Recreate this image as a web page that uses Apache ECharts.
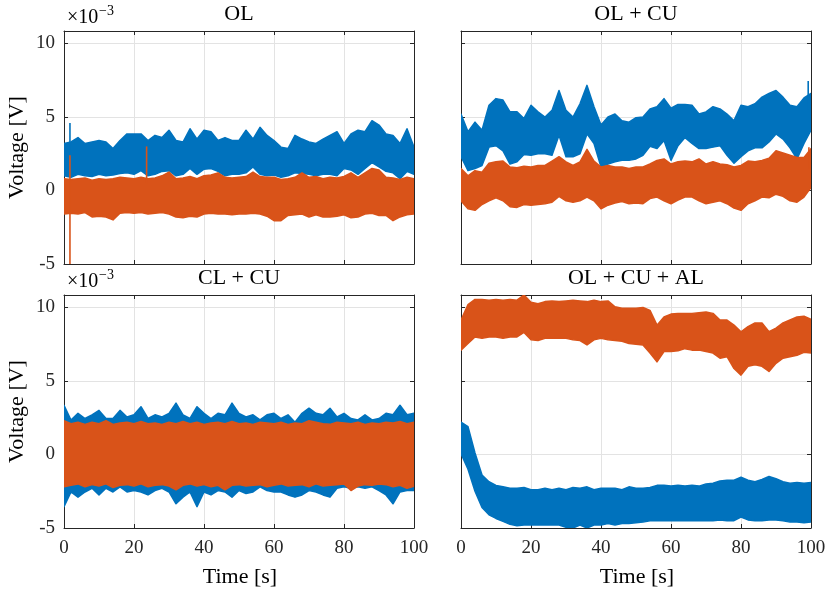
<!DOCTYPE html>
<html><head><meta charset="utf-8">
<script src="https://cdn.jsdelivr.net/npm/echarts@6/dist/echarts.min.js"></script>
<style>html,body{margin:0;background:#fff}#c{width:832px;height:596px}</style>
</head><body><div id="c"></div>
<script>
// ---- data (voltage in 1e-3 V), envelopes every 2 s ----
const time = [0,2,4,6,8,10,12,14,16,18,20,22,24,26,28,30,32,34,36,38,40,42,44,46,48,50,52,54,56,58,60,62,64,66,68,70,72,74,76,78,80,82,84,86,88,90,92,94,96,98,100];
const xTicks = [0,20,40,60,80,100];
const yTicks = [-5,0,5,10];
const panelTitles = ['OL','OL + CU','CL + CU','OL + CU + AL'];

// OL
const olBlueUpper = [3.2,3.3,3.6,3.2,3.3,3.4,3.3,2.85,3.4,3.85,3.85,3.85,3.4,3.75,3.6,4.1,3.4,3.3,4.2,3.5,4.1,4.0,3.4,3.6,3.4,3.4,4.1,3.5,4.3,3.75,3.4,2.95,2.85,3.75,3.5,3.3,3.2,3.5,3.75,4.0,3.2,3.85,4.1,4.0,4.75,4.45,3.85,3.75,3.2,4.2,2.95];
const olBlueLower = [1.0,0.9,1.1,1.0,0.95,1.1,1.0,1.05,1.15,1.2,1.1,1.35,1.0,1.1,1.3,1.35,1.0,1.1,1.5,1.1,1.45,1.5,1.3,1.0,1.1,1.1,1.2,1.6,1.1,1.0,1.05,0.9,1.0,1.2,1.15,1.1,1.0,1.1,1.1,1.0,1.5,1.4,1.1,1.5,1.9,1.6,1.3,1.2,0.8,1.3,1.1];
const olOrangeUpper = [0.8,0.75,0.8,0.85,0.7,0.8,0.75,0.8,0.9,0.85,0.8,0.9,0.8,0.85,1.0,1.25,0.8,0.85,0.95,0.8,1.0,1.05,1.2,0.9,0.85,0.9,0.95,1.25,0.95,0.9,0.9,0.75,0.8,0.9,1.2,0.9,0.95,0.8,0.9,0.85,0.95,1.2,0.9,1.2,1.5,1.4,0.9,0.85,0.75,0.9,0.8];
const olOrangeLower = [-1.6,-1.55,-1.6,-1.5,-1.8,-1.75,-1.8,-2.0,-1.55,-1.5,-1.55,-1.5,-1.6,-1.55,-1.5,-1.6,-1.8,-1.85,-1.75,-1.8,-1.6,-1.55,-1.6,-1.6,-1.65,-1.6,-1.6,-1.55,-1.6,-1.75,-2.05,-2.05,-1.7,-1.65,-1.6,-1.8,-1.65,-1.8,-1.8,-1.75,-1.65,-1.85,-1.8,-1.6,-1.55,-1.7,-1.7,-2.05,-1.8,-1.65,-1.6];
const olBlueSpikes = [[1.7,2.5,4.6]];            // [time, from, to]
const olOrangeSpikes = [[1.7,-5.0,2.4],[23.6,0.5,3.0]];

// OL + CU
const olcuBlueUpper = [5.2,4.0,4.65,4.1,5.8,6.25,6.15,5.35,5.35,4.9,5.8,5.35,5.0,5.45,6.8,5.45,5.0,5.9,7.15,5.7,4.45,5.0,5.2,4.75,4.65,4.95,5.0,5.55,5.7,6.25,5.6,5.85,5.85,5.8,5.2,5.35,5.7,5.55,5.2,4.75,5.8,5.7,5.9,6.35,6.6,6.8,6.35,5.8,5.7,6.3,6.6];
const olcuBlueLower = [2.3,1.35,1.5,1.7,2.95,3.05,2.7,1.8,1.95,2.45,2.4,2.5,2.5,2.4,3.75,2.3,2.3,2.5,3.85,3.2,1.6,1.8,1.95,2.05,2.05,2.15,2.4,3.0,2.85,3.4,2.05,3.05,3.6,3.2,2.85,2.85,2.95,3.05,2.4,1.85,2.3,2.7,2.9,2.9,3.3,3.85,3.5,2.9,2.15,3.2,4.1];
const olcuOrangeUpper = [1.5,1.0,1.35,1.25,1.85,1.95,2.0,1.6,1.55,1.65,1.6,1.7,1.7,2.0,2.3,1.95,1.7,1.95,2.8,2.0,1.6,1.7,1.6,1.6,1.5,1.6,1.6,1.8,2.05,2.15,1.8,1.95,2.0,1.95,2.15,1.8,1.95,1.8,1.75,1.6,1.7,2.0,1.95,2.05,2.2,2.7,2.55,2.4,2.25,2.25,2.85];
const olcuOrangeLower = [-0.7,-1.25,-1.35,-0.95,-0.7,-0.5,-0.7,-1.1,-1.15,-0.95,-1.0,-0.95,-0.9,-0.8,-0.4,-0.7,-0.8,-0.7,-0.45,-0.7,-1.25,-1.0,-0.85,-0.75,-0.9,-0.85,-0.9,-0.55,-0.45,-0.7,-0.9,-0.65,-0.45,-0.45,-0.7,-0.9,-0.8,-0.7,-0.9,-1.2,-1.35,-0.9,-0.7,-0.45,-0.5,-0.25,-0.4,-0.7,-0.8,-0.45,0.2];
const olcuBlueSpikes = [[99.2,5.5,7.45]];
const olcuOrangeSpikes = [[99.4,1.5,2.95]];

// CL + CU
const clcuBlueUpper = [3.35,2.35,2.8,2.45,2.7,3.0,2.45,2.45,3.0,2.55,2.7,3.25,2.45,2.7,2.55,2.8,3.5,2.7,2.45,3.25,2.8,2.45,2.8,2.7,3.5,2.8,2.55,2.7,2.35,2.7,2.8,2.45,2.7,2.2,2.8,3.15,2.8,2.7,3.15,2.55,2.8,2.45,2.35,2.7,2.35,2.45,2.8,2.7,3.35,2.7,2.8];
const clcuBlueLower = [-3.55,-2.55,-2.9,-2.55,-2.3,-2.75,-2.3,-2.55,-2.2,-2.55,-2.45,-2.55,-2.75,-2.45,-2.3,-2.55,-3.35,-2.9,-2.55,-3.55,-2.55,-2.75,-2.45,-2.55,-2.9,-2.45,-2.65,-2.55,-2.2,-2.45,-2.55,-2.55,-2.75,-2.9,-2.75,-2.45,-2.55,-2.75,-2.9,-2.3,-2.2,-2.3,-2.2,-2.3,-2.2,-2.45,-2.75,-3.35,-2.55,-2.45,-2.45];
const clcuOrangeUpper = [2.3,2.1,2.2,2.05,2.2,2.1,2.3,2.05,2.15,2.2,2.1,2.25,2.1,2.15,2.05,2.2,2.1,2.25,2.1,2.2,2.05,2.15,2.2,2.1,2.25,2.1,2.15,2.05,2.2,2.15,2.1,2.2,2.05,2.15,2.1,2.3,2.2,2.1,2.05,2.2,2.15,2.1,2.2,2.05,2.15,2.1,2.2,2.15,2.25,2.1,2.2];
const clcuOrangeLower = [-2.2,-2.1,-2.0,-2.2,-2.05,-2.15,-2.0,-2.25,-2.1,-2.05,-2.15,-2.0,-2.2,-2.1,-2.05,-2.15,-2.4,-2.1,-2.0,-2.15,-2.05,-2.2,-2.1,-2.4,-2.1,-2.05,-2.15,-2.1,-2.05,-2.2,-2.1,-2.0,-2.15,-2.1,-2.05,-2.2,-2.0,-2.15,-2.1,-2.05,-2.0,-2.45,-2.15,-2.05,-2.1,-2.0,-2.05,-2.2,-2.1,-2.3,-2.15];

// OL + CU + AL
const olcualBlueUpper = [2.2,1.9,0.1,-1.4,-1.85,-2.1,-2.2,-2.3,-2.3,-2.25,-2.4,-2.4,-2.3,-2.4,-2.3,-2.4,-2.25,-2.3,-2.2,-2.4,-2.3,-2.3,-2.3,-2.4,-2.2,-2.3,-2.3,-2.25,-2.1,-2.1,-2.15,-2.1,-2.15,-2.1,-2.15,-2.0,-1.95,-1.8,-1.75,-1.75,-1.55,-1.75,-1.85,-1.7,-1.5,-1.65,-1.85,-1.95,-1.9,-1.95,-1.9];
const olcualBlueLower = [0.05,-1.0,-2.5,-3.6,-4.1,-4.35,-4.55,-4.75,-4.85,-4.8,-4.8,-4.8,-4.8,-4.8,-4.8,-4.95,-5.0,-4.8,-5.0,-4.8,-4.8,-4.7,-4.8,-4.7,-4.7,-4.65,-4.6,-4.5,-4.5,-4.5,-4.5,-4.5,-4.5,-4.5,-4.5,-4.5,-4.5,-4.45,-4.5,-4.5,-4.25,-4.45,-4.5,-4.5,-4.45,-4.45,-4.5,-4.6,-4.6,-4.65,-4.6];
const olcualOrangeUpper = [9.15,10.2,10.55,10.55,10.5,10.55,10.5,10.55,10.5,10.85,10.35,10.25,10.4,10.45,10.4,10.45,10.5,10.45,10.4,10.5,10.4,10.45,10.05,9.95,9.95,9.95,10.0,9.8,8.8,9.35,9.55,9.6,9.6,9.6,9.65,9.7,9.6,9.15,9.15,8.8,8.35,8.7,8.95,8.95,8.35,8.6,8.95,9.15,9.35,9.4,9.2];
const olcualOrangeLower = [7.1,7.55,8.0,7.9,8.0,8.0,7.9,8.0,8.0,8.3,7.8,7.75,7.9,7.9,7.9,7.9,7.8,7.75,7.45,7.8,7.9,7.8,7.75,7.7,7.55,7.5,7.45,6.9,6.3,7.0,7.0,7.05,7.2,7.1,7.1,7.0,6.9,6.55,6.65,5.85,5.4,6.0,6.1,6.0,5.65,6.2,6.55,6.65,6.75,6.95,6.9];

// ---- styling / layout ----
const FONT = '"Liberation Serif", "Times New Roman", serif';
const BLUE = '#0072BD', ORANGE = '#D95319';
const AXC = '#262626', GRIDC = '#e3e3e3';
const W = 350, H = 233;
const layout = [{left:64, top:31}, {left:461, top:31}, {left:64, top:295}, {left:461, top:295}];
const Y_MIN = -5, Y_MAX = 10.85;

const panels = [
  {blue:[olBlueLower, olBlueUpper], orange:[olOrangeLower, olOrangeUpper], bs: olBlueSpikes, os: olOrangeSpikes},
  {blue:[olcuBlueLower, olcuBlueUpper], orange:[olcuOrangeLower, olcuOrangeUpper], bs: olcuBlueSpikes, os: olcuOrangeSpikes},
  {blue:[clcuBlueLower, clcuBlueUpper], orange:[clcuOrangeLower, clcuOrangeUpper], bs: [], os: []},
  {blue:[olcualBlueLower, olcualBlueUpper], orange:[olcualOrangeLower, olcualOrangeUpper], bs: [], os: []}
];

function bandSeries(i, lo, hi, color) {
  return {
    type: 'custom', xAxisIndex: 2*i, yAxisIndex: 2*i, clip: true, silent: true,
    data: time.map((t, k) => [t, lo[k], hi[k]]),
    encode: {x: 0, y: [1, 2]},
    renderItem: (params, api) => {
      if (params.dataIndex !== 0) return null;
      const pts = [];
      for (let k = 0; k < time.length; k++) pts.push(api.coord([time[k], hi[k]]));
      for (let k = time.length - 1; k >= 0; k--) pts.push(api.coord([time[k], lo[k]]));
      return {type: 'polygon', shape: {points: pts},
              style: {fill: color, stroke: color, lineWidth: 1.5, lineJoin: 'round'}};
    }
  };
}
function spikeSeries(i, spikes, color) {
  return {
    type: 'custom', xAxisIndex: 2*i, yAxisIndex: 2*i, clip: true, silent: true,
    data: spikes, encode: {x: 0, y: [1, 2]},
    renderItem: (params, api) => {
      const a = api.coord([api.value(0), api.value(1)]);
      const b = api.coord([api.value(0), api.value(2)]);
      return {type: 'line', shape: {x1: a[0], y1: a[1], x2: b[0], y2: b[1]},
              style: {stroke: color, lineWidth: 1.6}};
    }
  };
}

const grids = [], xAxes = [], yAxes = [], series = [];
layout.forEach((g, i) => {
  grids.push({left: g.left, top: g.top, width: W, height: H, containLabel: false});
  const common = {type: 'value', gridIndex: i, min: 0, max: 100, interval: 20,
    axisLine: {show: true, onZero: false, lineStyle: {color: AXC, width: 1}},
    axisTick: {show: true, inside: true, length: 4, lineStyle: {color: AXC, width: 1}}};
  xAxes.push(Object.assign({}, common, {position: 'bottom',
    axisLabel: {show: i >= 2, fontFamily: FONT, fontSize: 19, color: AXC, margin: 11,
                customValues: xTicks},
    splitLine: {show: true, lineStyle: {color: GRIDC, width: 1}}}));
  xAxes.push(Object.assign({}, common, {position: 'top', axisLabel: {show: false}, splitLine: {show: false}}));
  const ycommon = {type: 'value', gridIndex: i, min: Y_MIN, max: Y_MAX, interval: 5,
    axisLine: {show: true, onZero: false, lineStyle: {color: AXC, width: 1}},
    axisTick: {show: true, inside: true, length: 4, lineStyle: {color: AXC, width: 1},
               customValues: yTicks}};
  yAxes.push(Object.assign({}, ycommon, {position: 'left',
    axisLabel: {show: i % 2 === 0, fontFamily: FONT, fontSize: 19, color: AXC, margin: 9,
                customValues: yTicks},
    splitLine: {show: true, lineStyle: {color: GRIDC, width: 1}}}));
  yAxes.push(Object.assign({}, ycommon, {position: 'right', axisLabel: {show: false}, splitLine: {show: false}}));

  const p = panels[i];
  series.push(bandSeries(i, p.blue[0], p.blue[1], BLUE));
  if (p.bs.length) series.push(spikeSeries(i, p.bs, BLUE));
  series.push(bandSeries(i, p.orange[0], p.orange[1], ORANGE));
  if (p.os.length) series.push(spikeSeries(i, p.os, ORANGE));
});

function txt(x, y, text, size, extra) {
  return Object.assign({type: 'text', x: x, y: y, silent: true,
    style: {text: text, font: size + 'px ' + FONT, fill: '#000',
            textAlign: 'center', textVerticalAlign: 'middle', align: 'center', verticalAlign: 'middle'}}, extra || {});
}
const graphics = [];
layout.forEach((g, i) => {
  graphics.push(txt(g.left + W/2, g.top - 17, panelTitles[i], 22));
});
[31, 295].forEach(top => {
  graphics.push({type: 'text', x: 67, y: top - 13, silent: true,
    style: {text: '×10', font: '20px ' + FONT, fill: '#000', textAlign: 'left', align: 'left', textVerticalAlign: 'middle', verticalAlign: 'middle'}});
  graphics.push({type: 'text', x: 99, y: top - 20, silent: true,
    style: {text: '−3', font: '14px ' + FONT, fill: '#000', textAlign: 'left', align: 'left', textVerticalAlign: 'middle', verticalAlign: 'middle'}});
  graphics.push(txt(17, top + H/2, 'Voltage [V]', 22, {rotation: Math.PI/2}));
});
[64, 461].forEach(left => graphics.push(txt(left + W/2 + 1, 577, 'Time [s]', 22)));

const chart = echarts.init(document.getElementById('c'), null, {renderer: 'canvas'});
chart.setOption({
  backgroundColor: '#fff', animation: false,
  grid: grids, xAxis: xAxes, yAxis: yAxes, series: series, graphic: graphics
});
</script></body></html>
